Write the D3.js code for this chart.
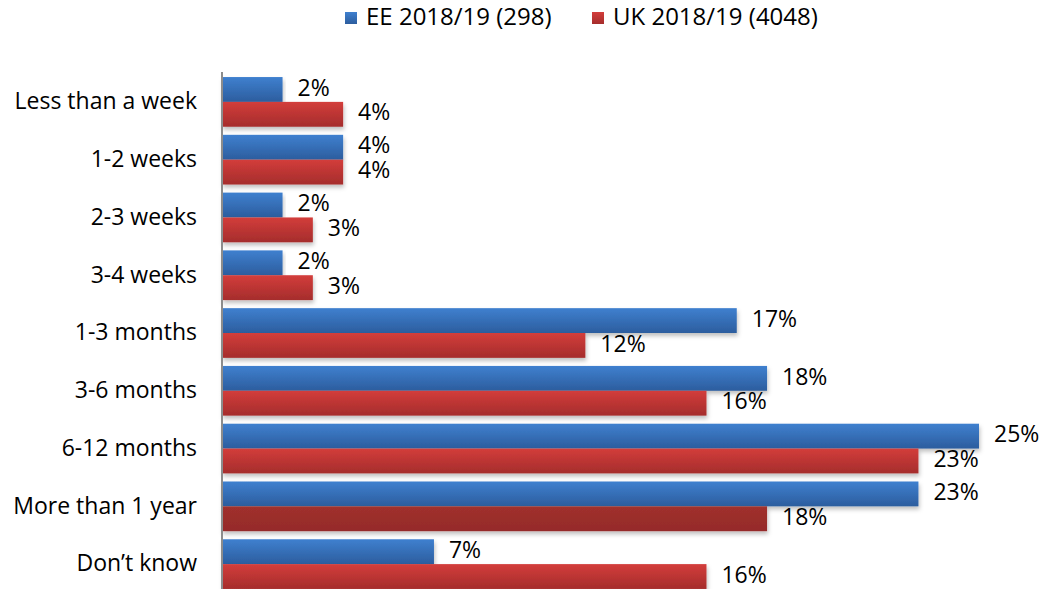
<!DOCTYPE html>
<html><head><meta charset="utf-8">
<script src="https://cdn.jsdelivr.net/npm/d3@7"></script>
<style>body{margin:0;background:#fff}svg{display:block}text{font-family:"Open Sans",sans-serif;fill:#000}</style>
</head><body>
<svg id="c" width="1043" height="589"></svg>
<script>
const categories = ["Less than a week","1-2 weeks","2-3 weeks","3-4 weeks","1-3 months","3-6 months","6-12 months","More than 1 year","Don\u2019t know"];
const seriesNames = ["EE 2018/19 (298)","UK 2018/19 (4048)"];
const eeValues = [2,4,2,2,17,18,25,23,7];
const ukValues = [4,4,3,3,12,16,23,18,16];
const highlight = "More than 1 year";

const svg = d3.select("#c");
const x0 = 222;
const x = d3.scaleLinear().domain([0,25]).range([x0, 979]);
const y = d3.scaleBand().domain(categories).range([73, 593]).paddingInner(0.14).paddingOuter(0.07);
const sub = d3.scaleBand().domain([0,1]).range([0, y.bandwidth()]);

const defs = svg.append("defs");
function grad(id, c1, c2){
  const g = defs.append("linearGradient").attr("id", id).attr("x1",0).attr("y1",0).attr("x2",0).attr("y2",1);
  g.append("stop").attr("offset","0%").attr("stop-color",c1);
  g.append("stop").attr("offset","100%").attr("stop-color",c2);
}
grad("gb","#3f80cf","#2c5d9e");
grad("gr","#d33d3b","#a52d2c");
grad("gd","#a0302d","#952b2a");
const f = defs.append("filter").attr("id","sh").attr("x","-5%").attr("y","-20%").attr("width","110%").attr("height","160%");
f.append("feDropShadow").attr("dx",1).attr("dy",3).attr("stdDeviation",2).attr("flood-color","#000").attr("flood-opacity",0.25);

const data = [];
categories.forEach((c,i)=>{
  data.push({c, s:0, v:eeValues[i]});
  data.push({c, s:1, v:ukValues[i]});
});

svg.append("g").selectAll("rect").data(data).join("rect")
  .attr("x", x(0))
  .attr("y", d => y(d.c) + sub(d.s))
  .attr("width", d => x(d.v) - x(0))
  .attr("height", sub.bandwidth())
  .attr("fill", d => d.s===0 ? "url(#gb)" : (d.c===highlight ? "url(#gd)" : "url(#gr)"))
  .attr("filter","url(#sh)");

svg.append("g").selectAll("text").data(data).join("text")
  .attr("x", d => x(d.v) + 15)
  .attr("y", d => y(d.c) + sub(d.s) + sub.bandwidth()/2)
  .attr("dominant-baseline","middle")
  .style("font-size","23px")
  .text(d => d.v + "%");

const ax = svg.append("g").attr("transform",`translate(${x0},0)`)
  .call(d3.axisLeft(y).tickSize(0).tickPadding(25));
ax.select(".domain").attr("stroke","#8c8c8c").attr("stroke-width",2).attr("d",`M0,72V589`);
ax.selectAll("text").style("font-size","23px").style("font-family","'Open Sans',sans-serif").attr("fill","#000");

const leg = svg.append("g");
const lx = [345, 592];
seriesNames.forEach((n,i)=>{
  leg.append("rect").attr("x",lx[i]).attr("y",12).attr("width",12).attr("height",12)
    .attr("fill", i===0 ? "url(#gb)" : "url(#gr)");
  leg.append("text").attr("x",lx[i]+21).attr("y",19).attr("dominant-baseline","middle")
    .style("font-size","24px").text(n);
});
</script>
</body></html>
